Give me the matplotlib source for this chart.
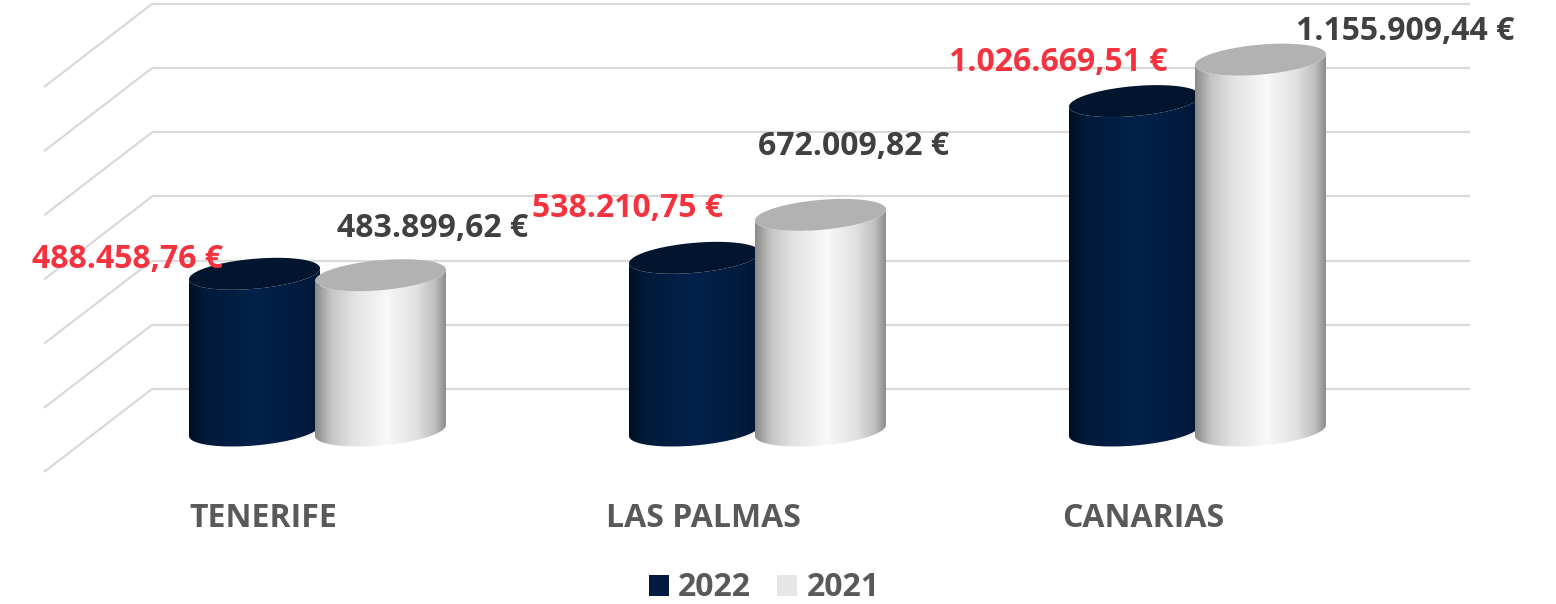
import numpy as np
import matplotlib
matplotlib.use("Agg")
import matplotlib.pyplot as plt
from matplotlib.patches import Polygon, Patch
from matplotlib.colors import LinearSegmentedColormap

plt.rcParams['font.family'] = ['Open Sans', 'DejaVu Sans']

# ---------------- data ----------------
categories = ["TENERIFE", "LAS PALMAS", "CANARIAS"]
series_names = ["2022", "2021"]
values_2022 = [488458.76, 538210.75, 1026669.51]
values_2021 = [483899.62, 672009.82, 1155909.44]
labels_2022 = ["488.458,76 €", "538.210,75 €", "1.026.669,51 €"]
labels_2021 = ["483.899,62 €", "672.009,82 €", "1.155.909,44 €"]
grid_values = [0, 200000, 400000, 600000, 800000, 1000000, 1200000]

# ---------------- layout / style ----------------
W, H, DPI = 1556, 604, 100
PX_X = 1 / 440.0            # category units per pixel
PX_Y = 200000 / 64.17       # euros per pixel
X0_PIX, Y0_PIX = 317.5, 430.5   # pixel of (category 0, value 0)

fig = plt.figure(figsize=(W / DPI, H / DPI), dpi=DPI)
ax = fig.add_axes([0, 0, 1, 1])
ax.set_xlim(-X0_PIX * PX_X, (W - X0_PIX) * PX_X)
ax.set_ylim(-(H - Y0_PIX) * PX_Y, Y0_PIX * PX_Y)
ax.set_autoscale_on(False)
ax.axis('off')

GRID_COLOR = "#D9D9D9"
DEPTH_DX = 54 * PX_X      # half depth of floor (x shift)
DEPTH_DY = 41.5 * PX_Y    # half depth of floor (y shift)
WALL_LEFT = (152 - X0_PIX) * PX_X
WALL_RIGHT = (1470 - X0_PIX) * PX_X

# perspective gridlines: back wall horizontals + left wall diagonals
for v in grid_values:
    yb = v + DEPTH_DY
    ax.plot([WALL_LEFT, WALL_RIGHT], [yb, yb], color=GRID_COLOR, lw=1.6,
            solid_capstyle='butt', zorder=1)
    ax.plot([WALL_LEFT - 2 * DEPTH_DX, WALL_LEFT], [v - DEPTH_DY, yb],
            color=GRID_COLOR, lw=1.6, solid_capstyle='butt', zorder=1)

# cylinder geometry
A = 65.5 * PX_X          # half width
B = 15.0 * PX_Y          # ellipse half height
TILT = 5.5 * PX_Y        # right side higher
OFFSET = 63 * PX_X       # series offset from category centre

blue_cmap = LinearSegmentedColormap.from_list(
    "blue", [(0, "#010F24"), (0.12, "#011A3A"), (0.5, "#03214A"),
             (0.85, "#021B3F"), (1, "#011533")])
grey_cmap = LinearSegmentedColormap.from_list(
    "grey", [(0, "#8A8A8A"), (0.12, "#C4C4C4"), (0.3, "#E4E4E4"),
             (0.55, "#F8F8F8"), (0.78, "#E0E0E0"), (0.92, "#BDBDBD"),
             (1, "#8C8C8C")])
TOP_COLORS = ["#01152F", "#B2B2B2"]
CMAPS = [blue_cmap, grey_cmap]


def ellipse_pts(cx, cy, t):
    return cx + A * np.cos(t), cy + B * np.sin(t) + TILT * np.cos(t)


def cylinder(cx, value, cmap, top_color, z):
    t_front = np.linspace(np.pi, 2 * np.pi, 80)
    bx, by = ellipse_pts(cx, 0.0, t_front)
    tx, ty = ellipse_pts(cx, value, t_front[::-1])
    xs = np.concatenate([bx, tx])
    ys = np.concatenate([by, ty])
    body = Polygon(np.column_stack([xs, ys]), closed=True, fc='none',
                   ec='none', zorder=z)
    ax.add_patch(body)
    grad = cmap(np.linspace(0, 1, 256))[None, :, :3]
    im = ax.imshow(grad, extent=[cx - A, cx + A, -B * 2, value + B * 2],
                   aspect='auto', interpolation='bilinear', zorder=z,
                   origin='lower')
    im.set_clip_path(body)
    t_all = np.linspace(0, 2 * np.pi, 160)
    ex, ey = ellipse_pts(cx, value, t_all)
    ax.add_patch(Polygon(np.column_stack([ex, ey]), closed=True,
                         fc=top_color, ec='none', zorder=z + 0.5))


series_values = [values_2022, values_2021]
for i in range(len(categories)):
    for s, vals in enumerate(series_values):
        cx = i + (-OFFSET if s == 0 else OFFSET)
        cylinder(cx, vals[i], CMAPS[s], TOP_COLORS[s], 3 + s * 2)

# value labels (offsets in pixels relative to top centre)
LABEL_COLORS = ["#F5333F", "#404040"]
LABEL_OFFSETS = [
    [(-127.5, 5.7), (-67, 40.7), (-76.5, 30)],
    [(52, 38), (33, 60), (144.5, 20)],
]
series_labels = [labels_2022, labels_2021]
FS = 23
for s in range(2):
    for i in range(len(categories)):
        cx = i + (-OFFSET if s == 0 else OFFSET)
        dx, dy = LABEL_OFFSETS[s][i]
        ax.annotate(series_labels[s][i], xy=(cx, series_values[s][i]),
                    xytext=(dx, dy), textcoords='offset pixels',
                    ha='center', va='baseline', fontsize=FS,
                    fontweight='bold', color=LABEL_COLORS[s], zorder=20)

# category labels
for i, c in enumerate(categories):
    ax.text(i - 54 * PX_X, (Y0_PIX - 527) * PX_Y, c, ha='center',
            va='baseline', fontsize=FS, fontweight='bold', color="#595959",
            zorder=20)

# legend
handles = [Patch(facecolor="#011A3F", edgecolor='none', label=series_names[0]),
           Patch(facecolor="#E7E6E6", edgecolor='none', label=series_names[1])]
leg = ax.legend(handles=handles, loc='center', ncol=2,
                bbox_to_anchor=(764 / W, 1 - 588 / H),
                bbox_transform=fig.transFigure, frameon=False,
                prop={'family': ['Open Sans', 'DejaVu Sans'], 'weight': 'bold',
                      'size': FS},
                handlelength=0.63, handleheight=0.63, handletextpad=0.3,
                columnspacing=0.8, borderpad=0, borderaxespad=0)
for t in leg.get_texts():
    t.set_color("#595959")

fig.savefig("out.png", dpi=DPI, facecolor='white')
